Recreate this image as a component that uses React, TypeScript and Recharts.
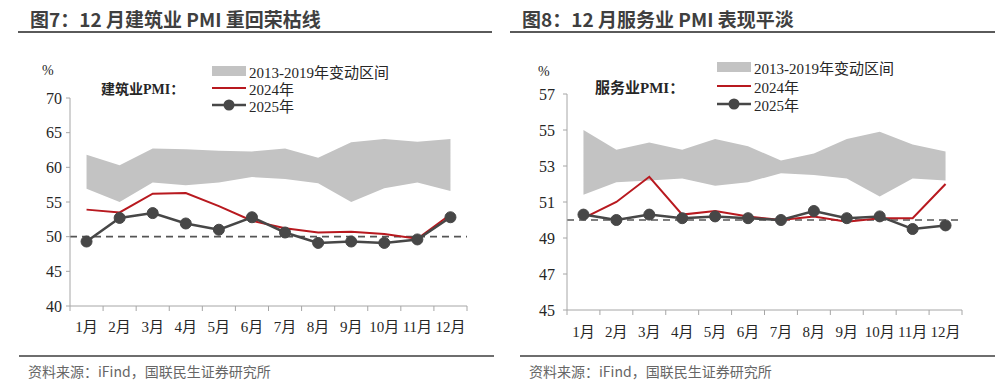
import React from 'react';
import { ComposedChart, Area, Line, XAxis, YAxis, ReferenceLine } from 'recharts';

// month labels
const months = ['1月', '2月', '3月', '4月', '5月', '6月', '7月', '8月', '9月', '10月', '11月', '12月'];

// construction PMI (left panel)
const buildBandLow = [56.9, 55.0, 57.8, 57.4, 57.8, 58.6, 58.3, 57.7, 55.0, 57.0, 57.8, 56.6];
const buildBandHigh = [61.8, 60.3, 62.7, 62.6, 62.4, 62.3, 62.7, 61.4, 63.6, 64.1, 63.7, 64.1];
const build2024 = [53.9, 53.5, 56.2, 56.3, 54.4, 52.3, 51.2, 50.6, 50.7, 50.4, 49.7, 53.2];
const build2025 = [49.3, 52.7, 53.4, 51.9, 51.0, 52.8, 50.6, 49.1, 49.3, 49.1, 49.6, 52.8];
const buildTicks = [40, 45, 50, 55, 60, 65, 70];

// services PMI (right panel)
const servBandLow = [51.4, 52.1, 52.2, 52.3, 51.9, 52.1, 52.6, 52.5, 52.3, 51.3, 52.3, 52.2];
const servBandHigh = [55.0, 53.9, 54.3, 53.9, 54.5, 54.1, 53.3, 53.7, 54.5, 54.9, 54.2, 53.8];
const serv2024 = [50.1, 51.0, 52.4, 50.3, 50.5, 50.2, 50.0, 50.2, 49.9, 50.1, 50.1, 52.0];
const serv2025 = [50.3, 50.0, 50.3, 50.1, 50.2, 50.1, 50.0, 50.5, 50.1, 50.2, 49.5, 49.7];
const servTicks = [45, 47, 49, 51, 53, 55, 57];

const SERIF = "'Liberation Serif', 'Times New Roman', 'Noto Sans CJK SC', serif";
const SANS = "'Noto Sans CJK SC', 'Noto Sans', sans-serif";
const BAND = '#c3c3c3';
const RED = '#b8191f';
const DARK = '#474747';
const AXIS = '#a6a6a6';

// ticks every half unit: integers get a tick mark, halves get the month label
const xTicks = Array.from({ length: months.length * 2 + 1 }, (_, i) => i / 2);

const MonthTick = ({ x, y, payload, labelDy }: any) => {
  const v = payload.value;
  if (Number.isInteger(v)) {
    return <line x1={x} y1={y} x2={x} y2={y + 5} stroke={AXIS} />;
  }
  return (
    <text x={x} y={y + labelDy} textAnchor="middle" dominantBaseline="central" fill="#262626" fontSize={15} fontFamily={SERIF}>
      {months[Math.floor(v)]}
    </text>
  );
};

const LegendBox = ({ left, rows }: { left: number; rows: number[] }) => (
  <div style={{ position: 'absolute', left, top: 0, fontFamily: SERIF, fontSize: 15, color: '#262626' }}>
    {['2013-2019年变动区间', '2024年', '2025年'].map((label, i) => (
      <div key={label} style={{ position: 'absolute', top: rows[i] - 9, height: 18, display: 'flex', alignItems: 'center', whiteSpace: 'nowrap' }}>
        <svg width={34} height={18} style={{ marginRight: 3 }}>
          {i === 0 && <rect x={0} y={4} width={34} height={10} fill={BAND} />}
          {i === 1 && <line x1={0} y1={9} x2={34} y2={9} stroke={RED} strokeWidth={2} />}
          {i === 2 && (
            <g>
              <line x1={0} y1={9} x2={34} y2={9} stroke={DARK} strokeWidth={2.5} />
              <circle cx={17} cy={9} r={5.5} fill={DARK} />
            </g>
          )}
        </svg>
        {label}
      </div>
    ))}
  </div>
);

type PanelProps = {
  left: number;
  title: string;
  seriesName: string;
  low: number[];
  high: number[];
  s2024: number[];
  s2025: number[];
  yTicks: number[];
  margin: { top: number; right: number; bottom: number; left: number };
  labelDy: number;
  tickMargin: number;
  pctPos: [number, number];
  namePos: [number, number, number];
  legendLeft: number;
  legendRows: number[];
  lineSpan: [number, number];
  titleLeft: number;
  bottomSpan: [number, number];
};

const Panel = (p: PanelProps) => {
  const rows = months.map((m, i) => ({
    x: i + 0.5,
    month: m,
    band: [p.low[i], p.high[i]],
    y2024: p.s2024[i],
    y2025: p.s2025[i],
  }));
  return (
    <div style={{ position: 'absolute', left: p.left, top: 0, width: 500, height: 392 }}>
      <div style={{ position: 'absolute', left: p.titleLeft, top: 5, fontFamily: SANS, fontWeight: 700, fontSize: 19, color: '#3f3f3f', whiteSpace: 'nowrap' }}>
        {p.title}
      </div>
      <div style={{ position: 'absolute', left: p.lineSpan[0], top: 31, width: p.lineSpan[1] - p.lineSpan[0], height: 2, background: '#5a5a5a' }} />
      <div style={{ position: 'absolute', left: p.pctPos[0], top: p.pctPos[1] - 8, fontFamily: SERIF, fontSize: 14, color: '#262626' }}>%</div>
      <div style={{ position: 'absolute', left: p.namePos[0], top: p.namePos[1] - 10, fontFamily: SERIF, fontWeight: 700, fontSize: p.namePos[2], color: '#262626', whiteSpace: 'nowrap' }}>
        {p.seriesName}
      </div>
      <LegendBox left={p.legendLeft} rows={p.legendRows} />
      <div style={{ position: 'absolute', left: 0, top: 0 }}>
        <ComposedChart width={500} height={392} data={rows} margin={p.margin}>
          <XAxis
            dataKey="x"
            type="number"
            domain={[0, months.length]}
            ticks={xTicks}
            interval={0}
            tickLine={false}
            tickSize={0}
            tickMargin={0}
            axisLine={{ stroke: AXIS }}
            tick={<MonthTick labelDy={p.labelDy} />}
            height={30}
          />
          <YAxis
            type="number"
            domain={[p.yTicks[0], p.yTicks[p.yTicks.length - 1]]}
            ticks={p.yTicks}
            interval={0}
            width={40}
            tickSize={4}
            tickMargin={p.tickMargin}
            axisLine={{ stroke: AXIS }}
            tickLine={{ stroke: AXIS }}
            tick={{ fill: '#262626', fontSize: 16, fontFamily: SERIF }}
          />
          <Area dataKey="band" type="linear" stroke="none" fill={BAND} fillOpacity={1} isAnimationActive={false} />
          <ReferenceLine y={50} stroke="#555" strokeWidth={1.6} strokeDasharray="7 5" />
          <Line dataKey="y2024" type="linear" stroke={RED} strokeWidth={2} dot={false} isAnimationActive={false} />
          <Line
            dataKey="y2025"
            type="linear"
            stroke={DARK}
            strokeWidth={2.5}
            dot={{ r: 5.5, fill: DARK, stroke: DARK, strokeWidth: 1 }}
            isAnimationActive={false}
          />
        </ComposedChart>
      </div>
      <div style={{ position: 'absolute', left: p.bottomSpan[0], top: 355, width: p.bottomSpan[1] - p.bottomSpan[0], height: 2, background: '#6e6e6e' }} />
      <div style={{ position: 'absolute', left: p.bottomSpan[0] + 9, top: 361, fontFamily: SANS, fontSize: 14, color: '#666' }}>
        资料来源：iFind，国联民生证券研究所
      </div>
    </div>
  );
};

export default function App() {
  return (
    <div style={{ position: 'absolute', left: 0, top: 0, width: 1000, height: 392, background: '#fff', overflow: 'hidden' }}>
      <Panel
        left={0}
        title="图7：12 月建筑业 PMI 重回荣枯线"
        seriesName="建筑业PMI："
        low={buildBandLow}
        high={buildBandHigh}
        s2024={build2024}
        s2025={build2025}
        yTicks={buildTicks}
        margin={{ top: 98, right: 33, bottom: 56, left: 30 }}
        labelDy={21}
        tickMargin={4}
        pctPos={[42, 71]}
        namePos={[101, 88, 14]}
        legendLeft={212}
        legendRows={[71, 88, 105]}
        lineSpan={[18, 492]}
        titleLeft={30}
        bottomSpan={[19, 494]}
      />
      <Panel
        left={500}
        title="图8：12 月服务业 PMI 表现平淡"
        seriesName="服务业PMI："
        low={servBandLow}
        high={servBandHigh}
        s2024={serv2024}
        s2025={serv2025}
        yTicks={servTicks}
        margin={{ top: 94, right: 38, bottom: 52, left: 27 }}
        labelDy={22}
        tickMargin={8}
        pctPos={[38, 72]}
        namePos={[95, 86, 15]}
        legendLeft={217}
        legendRows={[67, 86, 104]}
        lineSpan={[10, 495]}
        titleLeft={22}
        bottomSpan={[20, 495]}
      />
    </div>
  );
}
